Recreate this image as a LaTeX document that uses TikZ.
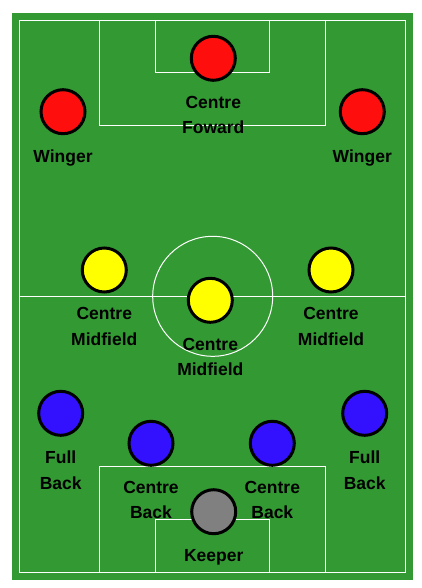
\documentclass[tikz,border=0pt]{standalone}
\usepackage{fontspec}
\setmainfont{Liberation Sans}
\usetikzlibrary{positioning}
\definecolor{grass}{RGB}{51,153,51}
\definecolor{attack}{RGB}{255,14,14}
\definecolor{midfield}{RGB}{255,255,0}
\definecolor{defence}{RGB}{51,17,255}
\definecolor{keeper}{RGB}{128,128,128}

\begin{document}
\begin{tikzpicture}[x=1pt,y=-1pt,
	pitchline/.style={draw=white, line width=1pt},
	player/.style={circle, draw=black, line width=3pt, minimum size=44pt, inner sep=0pt},
	role/.style={font=\fontsize{17.5}{25.5}\selectfont\bfseries, align=center, inner sep=0pt},
	node distance=14pt]
%		\draw [help lines] (0,0) grid (422,588);
		\fill [white] (0,0) rectangle (422,588);
		\useasboundingbox (0,0) rectangle (422,588);
		\fill [grass] (12,13) rectangle (413,580);
		% pitch markings
		\draw [pitchline] (19.5,20.5) rectangle (405.5,572.3);
		\draw [pitchline] (19.5,296.3) -- (405.5,296.3);
		\draw [pitchline] (212.7,296.3) circle (60);
		\draw [pitchline] (99.5,20.5) rectangle (325.5,126);
		\draw [pitchline] (155,20.5) rectangle (269.5,73);
		\draw [pitchline] (99.5,572.3) rectangle (325.5,466.3);
		\draw [pitchline] (155,572.3) rectangle (269.5,519.3);
		% attack
		\node [player, fill=attack] (cf) at (213.3,58.3) {};
		\node [player, fill=attack] (lw) at (63,111.7) {};
		\node [player, fill=attack] (rw) at (362.3,111.7) {};
		\node [role, below=of cf] (cflbl) {Centre\\Foward};
		\node [role, below=of lw] (lwlbl) {Winger};
		\node [role, below=of rw] (rwlbl) {Winger};
		% midfield
		\node [player, fill=midfield] (lm) at (104.3,270) {};
		\node [player, fill=midfield] (rm) at (331,270) {};
		\node [player, fill=midfield] (cm) at (210.3,300.3) {};
		\node [role, below=of lm] (lmlbl) {Centre\\Midfield};
		\node [role, below=of rm] (rmlbl) {Centre\\Midfield};
		\node [role, below=of cm] (cmlbl) {Centre\\Midfield};
		% defence
		\node [player, fill=defence] (lb) at (60.7,413.3) {};
		\node [player, fill=defence] (rb) at (364.7,413.3) {};
		\node [player, fill=defence] (lcb) at (151,443.3) {};
		\node [player, fill=defence] (rcb) at (272.3,443.3) {};
		\node [player, fill=keeper] (gk) at (213.7,511.7) {};
		\node [role, below=of lb] (lblbl) {Full\\Back};
		\node [role, below=of rb] (rblbl) {Full\\Back};
		\node [role, below=of lcb] (lcblbl) {Centre\\Back};
		\node [role, below=of rcb] (rcblbl) {Centre\\Back};
		\node [role, below=of gk] (gklbl) {Keeper};
\end{tikzpicture}
\end{document}
